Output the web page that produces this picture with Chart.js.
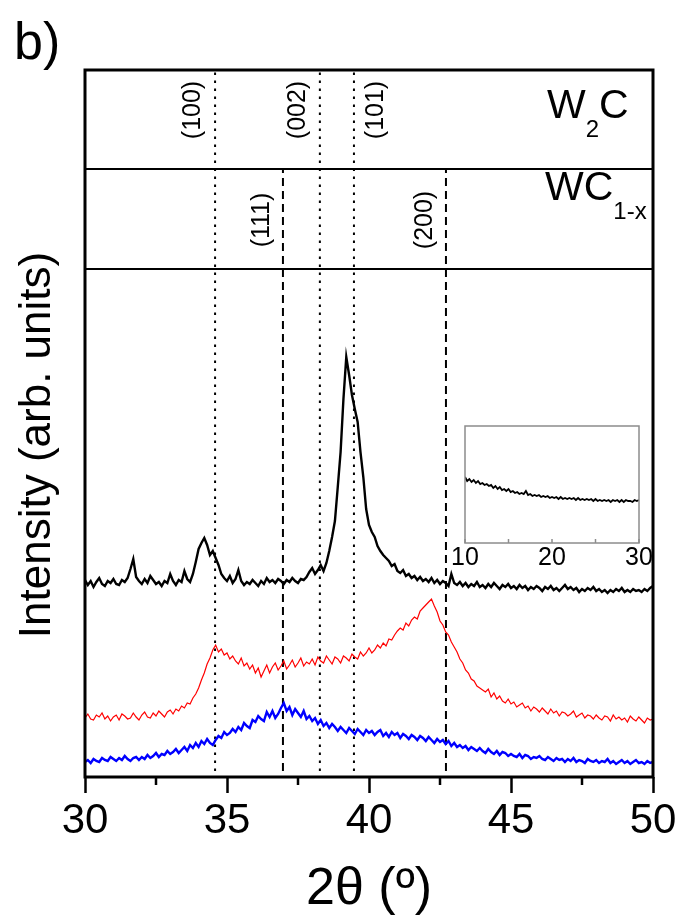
<!DOCTYPE html>
<html>
<head>
<meta charset="utf-8">
<script src="https://cdn.jsdelivr.net/npm/chart.js@4.4.0/dist/chart.umd.min.js"></script>
<style>
  body { margin: 0; background: #fff; }
  #wrap { position: relative; width: 680px; height: 922px; }
  #main { position: absolute; left: 0; top: 0; }
  #inset { position: absolute; left: 440px; top: 416px; }
</style>
</head>
<body>
<div id="wrap">
  <canvas id="main" width="680" height="922"></canvas>
  <canvas id="inset" width="230" height="160"></canvas>
</div>
<script>
// 2theta grid of the scans (degrees)
const thetaStart = 30, thetaStep = 0.1;

// intensities, arb. units (top to bottom trace)
const blackCounts = [
  197, 192, 196, 190, 195, 199, 193, 191, 196, 194,
  198, 193, 192, 197, 195, 199, 208, 218, 200, 196,
  193, 198, 194, 201, 197, 193, 195, 191, 196, 194,
  203, 196, 192, 197, 195, 206, 198, 195, 203, 215,
  228, 234, 239, 232, 222, 226, 219, 212, 203, 199,
  196, 201, 194, 198, 207, 196, 192, 195, 193, 197,
  194, 191, 196, 193, 199, 195, 197, 194, 198, 196,
  193, 197, 195, 199, 196, 194, 198, 197, 200, 205,
  209, 203, 207, 212, 206, 214, 226, 240, 256, 290,
  325, 378, 420, 402, 382, 368, 355, 325, 300, 268,
  252, 245, 240, 231, 226, 222, 219, 216, 211, 213,
  206, 204, 207, 201, 203, 199, 201, 197, 200, 196,
  198, 195, 199, 194, 197, 193, 196, 194, 191, 203,
  194, 192, 195, 191, 194, 190, 193, 191, 195, 190,
  192, 189, 193, 190, 194, 191, 188, 192, 190, 193,
  189, 191, 188, 192, 189, 191, 187, 190, 188, 191,
  189, 186, 190, 188, 191, 187, 189, 186, 189, 192,
  188, 190, 187, 189, 185, 188, 186, 189, 187, 190,
  186, 188, 185, 187, 184, 187, 185, 188, 186, 189,
  185, 187, 185, 188, 186, 187, 185, 188, 186, 189,
  191
];
const redCounts = [
  59, 63, 58, 57, 62, 60, 64, 58, 61, 56,
  60, 62, 57, 63, 61, 58, 59, 64, 60, 57,
  62, 65, 60, 59, 64, 61, 66, 63, 60, 65,
  67, 63, 68, 66, 71, 69, 74, 73, 79, 83,
  89, 97, 104, 113, 119, 127, 132, 125, 128, 122,
  124, 118, 121, 116, 113, 119, 111, 114, 108, 112,
  104, 109, 100, 106, 112, 104, 110, 114, 107, 111,
  116, 108, 112, 117, 110, 114, 119, 111, 115, 113,
  118, 112, 120, 116, 114, 121, 117, 113, 120, 118,
  114, 121, 119, 116, 123, 120, 118, 125, 121, 124,
  129, 124, 127, 132, 129, 134, 131, 138, 137, 142,
  146, 149, 147, 154, 151, 157, 160, 158, 166, 169,
  172, 175, 178, 171, 165, 156, 152, 145, 142, 135,
  130, 125, 118, 114, 107, 104, 98, 96, 91, 89,
  87, 85, 88, 80, 84, 78, 81, 76, 74, 78,
  73, 75, 70, 72, 74, 69, 71, 66, 70, 68,
  65, 69, 66, 63, 68, 64, 66, 61, 65, 64,
  61, 63, 66, 60, 62, 64, 59, 62, 61, 58,
  62, 59, 57, 61, 60, 56, 62, 58, 60, 57,
  59, 55, 61, 58, 56, 60, 57, 54, 59, 57,
  58
];
const blueCounts = [
  15, 17, 14, 18, 16, 15, 19, 17, 16, 20,
  18, 16, 19, 17, 21, 18, 16, 19, 20, 17,
  20, 18, 22, 19, 21, 24, 20, 23, 22, 26,
  23, 25, 28, 24, 27, 30, 26, 32, 29, 34,
  30, 36, 33, 38, 34, 32, 37, 41, 39, 45,
  42, 44, 48, 45, 50, 47, 54, 51, 49, 57,
  55, 61, 58, 56, 65, 60, 66, 59, 63, 69,
  74, 66, 70, 62, 68, 64, 60, 66, 58, 61,
  56, 59, 53, 57, 51, 54, 49, 53, 50, 46,
  50, 47, 44, 49, 46, 43, 48, 45, 42, 47,
  44, 46, 42, 45, 47, 41, 44, 40, 45, 42,
  44, 39, 43, 41, 38, 42, 40, 37, 41, 39,
  36, 40, 37, 34, 38, 35, 37, 33, 36, 31,
  34, 30, 32, 29, 31, 27, 30, 28, 26, 29,
  26, 24, 28, 25, 23, 26, 22, 25, 24, 21,
  23, 21, 20, 23, 19, 22, 21, 18, 20, 19,
  21, 18, 17, 20, 18, 16, 19, 17, 18, 15,
  18, 16, 19, 15, 17, 16, 14, 18, 16, 15,
  17, 14, 16, 15, 18, 14, 16, 13, 15, 17,
  14, 16, 13, 15, 17, 14, 15, 13, 16, 14,
  15
];

// inset scan, 10-30 degrees
const insetStart = 10, insetStep = 0.25;
const insetCounts = [
  66, 62, 64, 61, 63, 60, 62, 59,
  60, 58, 59, 57, 58, 55, 57, 54,
  56, 53, 54, 52, 54, 51, 52, 50,
  51, 49, 50, 49, 52, 48, 49, 47,
  48, 47, 48, 46, 47, 46, 47, 45,
  46, 45, 46, 44, 46, 44, 45, 44,
  45, 44, 45, 43, 45, 43, 44, 43,
  44, 43, 44, 42, 44, 42, 43, 42,
  43, 42, 43, 41, 43, 42, 43, 41,
  43, 41, 43, 42, 42, 41, 43, 42,
  43
];

// reference reflections
const w2cPeaks = [34.58, 38.27, 39.47];
const w2cHkl = ['(100)', '(002)', '(101)'];
const wcPeaks = [36.97, 42.71];
const wcHkl = ['(111)', '(200)'];

const minorTicks = [32.5, 37.5, 42.5, 47.5];
const insetTicks = [10, 20, 30];
const insetMinor = [15, 25];

// panel layout in y-axis units
const Y_MAX = 707, W2C_BOTTOM = 608, WC_BOTTOM = 508, LINE_BOTTOM = 6;

const FONT = '"Liberation Sans", Arial, sans-serif';
Chart.defaults.font.family = FONT;
Chart.defaults.color = '#000';

const toPoints = (start, step, arr) => arr.map((y, i) => ({ x: +(start + i * step).toFixed(2), y }));
const line = (data, color, width, dash) => ({
  data, borderColor: color, borderWidth: width, borderDash: dash || [],
  pointRadius: 0, fill: false, tension: 0
});

const framePlugin = {
  id: 'frame',
  afterDatasetsDraw(chart) {
    const { ctx, chartArea: a, scales: { x, y } } = chart;
    ctx.save();
    ctx.strokeStyle = '#000';
    ctx.lineWidth = 2.5;
    minorTicks.forEach(v => {
      const px = x.getPixelForValue(v);
      ctx.beginPath();
      ctx.moveTo(px, a.bottom);
      ctx.lineTo(px, a.bottom + 8);
      ctx.stroke();
    });
    ctx.lineWidth = 3;
    ctx.strokeRect(a.left, a.top, a.right - a.left, a.bottom - a.top);

    // hkl labels, rotated
    ctx.fillStyle = '#000';
    ctx.font = '25px ' + FONT;
    ctx.textAlign = 'center';
    ctx.textBaseline = 'middle';
    const vertical = (text, px, py) => {
      ctx.save();
      ctx.translate(px, py);
      ctx.rotate(-Math.PI / 2);
      ctx.fillText(text, 0, 0);
      ctx.restore();
    };
    w2cPeaks.forEach((p, i) => vertical(w2cHkl[i], x.getPixelForValue(p) + (i === 2 ? 22 : -22), y.getPixelForValue(667)));
    wcPeaks.forEach((p, i) => vertical(wcHkl[i], x.getPixelForValue(p) - 21, y.getPixelForValue(557)));

    // y axis title
    ctx.font = '44px ' + FONT;
    vertical('Intensity (arb. units)', 38, 445);

    // phase names with subscripts
    ctx.textAlign = 'left';
    ctx.textBaseline = 'alphabetic';
    const phase = (parts, x0, base) => {
      let cx = x0;
      parts.forEach(([t, sub]) => {
        ctx.font = (sub ? '24px ' : '41px ') + FONT;
        ctx.fillText(t, cx, sub ? base + 19 : base);
        cx += ctx.measureText(t).width;
      });
    };
    phase([['W'], ['2', true], ['C']], a.right - 106, a.top + 48);
    phase([['WC'], ['1-x', true]], a.right - 108, y.getPixelForValue(W2C_BOTTOM) + 31);

    ctx.font = '52px ' + FONT;
    ctx.fillText('b)', 14, 59);
    ctx.restore();
  }
};

new Chart(document.getElementById('main'), {
  type: 'line',
  data: {
    datasets: [
      line(toPoints(thetaStart, thetaStep, blackCounts), '#000000', 2.4),
      line(toPoints(thetaStart, thetaStep, redCounts), '#ff0000', 1.2),
      line(toPoints(thetaStart, thetaStep, blueCounts), '#0000ff', 2.4),
      ...w2cPeaks.map(p => line([{ x: p, y: LINE_BOTTOM }, { x: p, y: Y_MAX }], '#000', 2, [2.5, 5.5])),
      ...wcPeaks.map(p => line([{ x: p, y: LINE_BOTTOM }, { x: p, y: W2C_BOTTOM }], '#000', 2, [8, 5])),
      line([{ x: 30, y: W2C_BOTTOM }, { x: 50, y: W2C_BOTTOM }], '#000', 2),
      line([{ x: 30, y: WC_BOTTOM }, { x: 50, y: WC_BOTTOM }], '#000', 2)
    ]
  },
  options: {
    responsive: false,
    animation: false,
    layout: { padding: { top: 70, right: 27, left: 0, bottom: 0 } },
    plugins: { legend: { display: false }, tooltip: { enabled: false } },
    scales: {
      x: {
        type: 'linear', min: 30, max: 50,
        ticks: { stepSize: 5, font: { size: 42 }, padding: 3, maxRotation: 0 },
        grid: { drawOnChartArea: false, tickLength: 16, tickWidth: 2.5, tickColor: '#000' },
        border: { display: false },
        title: { display: true, text: '2θ (º)', font: { size: 52, lineHeight: 1 }, padding: { bottom: 6 } },
        afterFit: s => { s.height = 145; }
      },
      y: {
        min: 0, max: Y_MAX,
        ticks: { display: false },
        grid: { display: false },
        border: { display: false },
        afterFit: s => { s.width = 85; }
      }
    }
  },
  plugins: [framePlugin]
});

const insetFrame = {
  id: 'insetFrame',
  afterDatasetsDraw(chart) {
    const { ctx, chartArea: a, scales: { x } } = chart;
    ctx.save();
    ctx.strokeStyle = '#8c8c8c';
    ctx.lineWidth = 1.5;
    ctx.strokeRect(a.left, a.top, a.right - a.left, a.bottom - a.top);
    insetMinor.concat(insetTicks).forEach(v => {
      const px = x.getPixelForValue(v);
      ctx.beginPath();
      ctx.moveTo(px, a.bottom);
      ctx.lineTo(px, a.bottom - 4);
      ctx.stroke();
    });
    ctx.restore();
  }
};

new Chart(document.getElementById('inset'), {
  type: 'line',
  data: { datasets: [line(toPoints(insetStart, insetStep, insetCounts), '#000000', 1.8)] },
  options: {
    responsive: false,
    animation: false,
    layout: { padding: { top: 10, right: 31, left: 25, bottom: 0 } },
    plugins: { legend: { display: false }, tooltip: { enabled: false } },
    scales: {
      x: {
        type: 'linear', min: 10, max: 30,
        afterBuildTicks: s => { s.ticks = insetTicks.map(v => ({ value: v })); },
        ticks: { font: { size: 25 }, padding: 0, maxRotation: 0, autoSkip: false },
        grid: { display: false, drawTicks: false },
        border: { display: false },
        afterFit: s => { s.height = 33; }
      },
      y: { display: false, min: 0, max: 117 }
    }
  },
  plugins: [insetFrame]
});
</script>
</body>
</html>
